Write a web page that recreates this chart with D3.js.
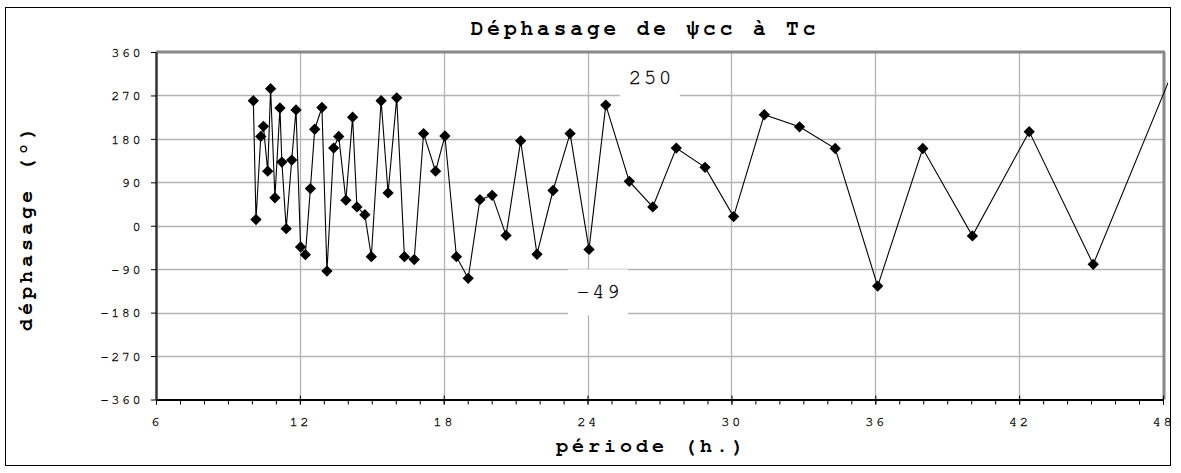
<!DOCTYPE html>
<html><head><meta charset="utf-8">
<script src="https://cdn.jsdelivr.net/npm/d3@7"></script>
<style>body{margin:0;background:#fff} svg{display:block}</style>
</head><body>
<svg id="c" width="1181" height="473"></svg>
<script>
const periods = [10.06,10.17,10.37,10.48,10.66,10.78,10.96,11.17,11.25,11.43,11.66,11.84,12.03,12.23,12.44,12.62,12.92,13.13,13.41,13.62,13.92,14.20,14.38,14.71,14.98,15.39,15.68,16.04,16.36,16.77,17.16,17.66,18.05,18.53,19.02,19.51,20.02,20.60,21.21,21.89,22.56,23.27,24.06,24.76,25.74,26.72,27.70,28.90,30.09,31.37,32.84,34.33,36.10,37.98,40.05,42.42,45.09,48.30];
const phases = [259,13,185,206,113,284,58,244,132,-6,136,240,-44,-60,77,200,245,-94,161,185,53,225,39,23,-64,259,68,265,-64,-70,191,113,186,-64,-109,54,63,-20,176,-59,73,191,-49,250,92,39,161,121,19,230,205,160,-125,160,-21,195,-80,307];
const xTicks = [6,12,18,24,30,36,42,48];
const yTicks = [360,270,180,90,0,-90,-180,-270,-360];
const labelIdx = [42,43];
const labelText = ["-49","250"];

const svg = d3.select("#c");
const W = 1181, H = 473;
const L = 156, R = 1163, T = 52, B = 399.5;
const x = d3.scaleLinear().domain([6,48]).range([L,R]);
const y = d3.scaleLinear().domain([-360,360]).range([B,T]);
const mono = "FreeMono, 'Courier New', monospace";

svg.append("rect").attr("width",W).attr("height",H).attr("fill","#fff");
// outer frame
svg.append("rect").attr("x",5.5).attr("y",7.5).attr("width",1165).attr("height",458)
  .attr("fill","none").attr("stroke","#000").attr("stroke-width",1);

// gridlines
const g = svg.append("g");
g.selectAll("line.h").data(yTicks.filter(v=>v>-360 && v<360)).join("line")
  .attr("x1",L).attr("x2",R).attr("y1",d=>Math.round(y(d))+0.5).attr("y2",d=>Math.round(y(d))+0.5)
  .attr("stroke","#b4b4b4").attr("stroke-width",1.3);
g.selectAll("line.v").data(xTicks.filter(v=>v>6 && v<48)).join("line")
  .attr("y1",T).attr("y2",B).attr("x1",d=>Math.round(x(d))+0.5).attr("x2",d=>Math.round(x(d))+0.5)
  .attr("stroke","#b4b4b4").attr("stroke-width",1.3);

// plot top/right borders (gray)
svg.append("line").attr("x1",L).attr("x2",R+2).attr("y1",T).attr("y2",T).attr("stroke","#888").attr("stroke-width",3);
svg.append("line").attr("x1",R+1).attr("x2",R+1).attr("y1",T).attr("y2",B).attr("stroke","#888").attr("stroke-width",3);

// data label backgrounds
const lab = svg.append("g");
const offs = [[9,42],[44,-28]];
labelIdx.forEach((i,k)=>{
  const cx = x(periods[i]) + offs[k][0], cy = y(phases[i]) + offs[k][1];
  lab.append("rect").attr("x",cx-30).attr("y",cy-22).attr("width",60).attr("height",46).attr("fill","#fff");
  lab.append("text").attr("x",cx+1.5).attr("y",cy+7).attr("text-anchor","middle")
    .style("font-family",mono).style("font-size","21px").style("letter-spacing","2.5px")
    .attr("fill","#000").attr("stroke","#000").attr("stroke-width",0.3)
    .text(labelText[k]);
});

// line & markers
svg.append("clipPath").attr("id","clip").append("rect").attr("x",L).attr("y",T-10).attr("width",R-L+5).attr("height",B-T+20);
const pts = periods.map((p,i)=>[p,phases[i]]);
svg.append("path").attr("clip-path","url(#clip)")
  .attr("d", d3.line().x(d=>x(d[0])).y(d=>y(d[1]))(pts))
  .attr("fill","none").attr("stroke","#000").attr("stroke-width",1.1);
const sym = d3.symbol().type(d3.symbolSquare).size(64);
svg.append("g").selectAll("path").data(pts.filter(d=>d[0]<=48)).join("path")
  .attr("transform",d=>`translate(${x(d[0])},${y(d[1])}) rotate(45)`)
  .attr("d",sym).attr("fill","#000");

// axes
const ax = svg.append("g").attr("transform",`translate(0,${B})`);
ax.call(d3.axisBottom(x).tickValues(d3.range(6,49,1)).tickSize(5).tickFormat(""));
ax.call(g2=>g2.select(".domain").remove());
const axMaj = svg.append("g").attr("transform",`translate(0,${B})`)
  .call(d3.axisBottom(x).tickValues(xTicks).tickSize(5).tickSizeOuter(0).tickPadding(12));
axMaj.selectAll(".tick line").attr("y1",-4).attr("y2",5);
axMaj.select(".domain").attr("stroke-width",2);
axMaj.selectAll("text").style("font-family",mono).style("font-size","14px").style("letter-spacing","2.5px")
  .attr("fill","#000").attr("stroke","#000").attr("stroke-width",0.3);
svg.selectAll(".tick line").attr("stroke","#000");

const ay = svg.append("g").attr("transform",`translate(${L},0)`)
  .call(d3.axisLeft(y).tickValues(yTicks).tickSize(5).tickSizeOuter(0).tickPadding(8));
ay.select(".domain").attr("stroke-width",2.5).attr("stroke","#333");
ay.selectAll("text").style("font-family",mono).style("font-size","13.5px").style("letter-spacing","2.5px")
  .attr("fill","#000").attr("stroke","#000").attr("stroke-width",0.3);

// titles
svg.append("text").attr("x",645).attr("y",35).attr("text-anchor","middle")
  .style("font-family",mono).style("font-weight","bold").style("font-size","21px").style("letter-spacing","4px")
  .text("Déphasage de ψcc à Tc");
svg.append("text").attr("x",652).attr("y",452).attr("text-anchor","middle")
  .style("font-family",mono).style("font-weight","bold").style("font-size","20px").style("letter-spacing","4px")
  .text("période (h.)");
svg.append("text").attr("transform","translate(32,227) rotate(-90)").attr("text-anchor","middle")
  .style("font-family",mono).style("font-weight","bold").style("font-size","20px").style("letter-spacing","4px")
  .text("déphasage (°)");
</script>
</body></html>
